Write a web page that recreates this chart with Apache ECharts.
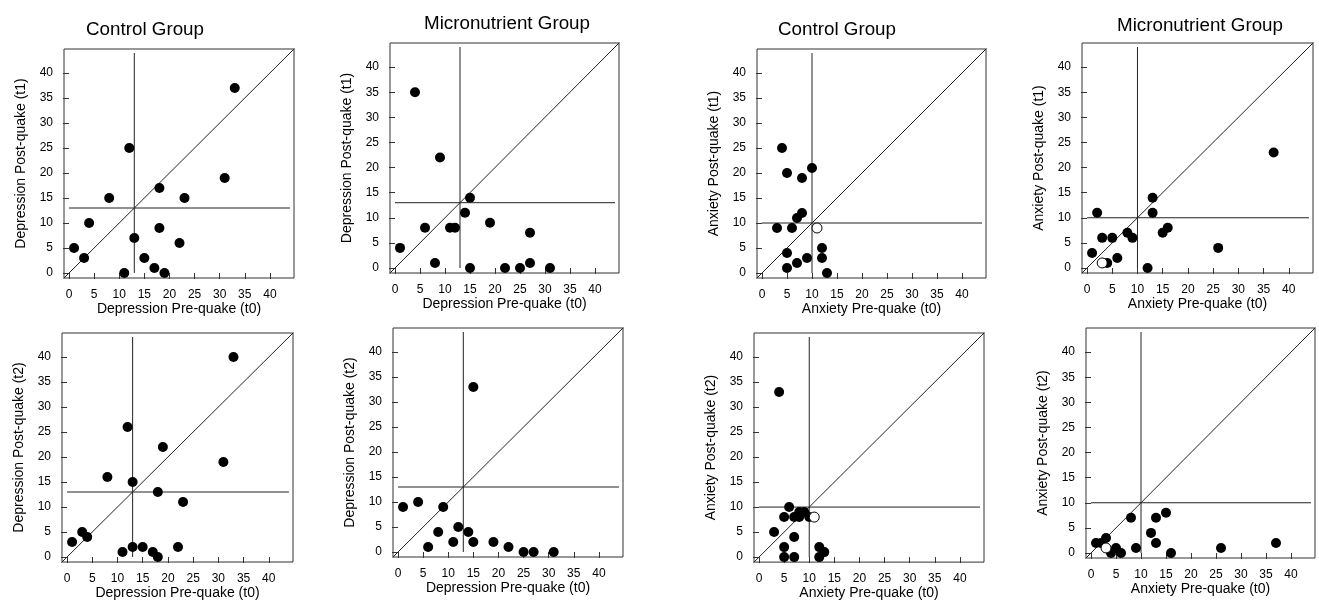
<!DOCTYPE html>
<html>
<head>
<meta charset="utf-8">
<script src="https://cdn.jsdelivr.net/npm/echarts@6/dist/echarts.min.js"></script>
<style>
  html, body { margin: 0; padding: 0; background: #fff; }
  #chart { width: 1319px; height: 601px; }
</style>
</head>
<body>
<div id="chart"></div>
<script>
// tick labels shared by every panel
const ticks = [0, 5, 10, 15, 20, 25, 30, 35, 40]
const depCut = 13
const anxCut = 10
const refEnd = 44

// [pre-quake (t0), post-quake] scores
const depCtrlT1 = [[33, 37], [12, 25], [31, 19], [18, 17], [8, 15], [23, 15], [4, 10], [18, 9], [13, 7], [22, 6], [1, 5], [3, 3], [15, 3], [17, 1], [11, 0], [19, 0]]
const depMicroT1 = [[4, 35], [9, 22], [15, 14], [14, 11], [19, 9], [6, 8], [11, 8], [12, 8], [27, 7], [1, 4], [8, 1], [27, 1], [15, 0], [22, 0], [25, 0], [31, 0]]
const anxCtrlT1 = [[4, 25], [10, 21], [5, 20], [8, 19], [8, 12], [7, 11], [3, 9], [6, 9], [12, 5], [5, 4], [9, 3], [12, 3], [7, 2], [5, 1], [13, 0]]
const anxCtrlT1Open = [[11, 9]]
const anxMicroT1 = [[37, 23], [13, 14], [2, 11], [13, 11], [16, 8], [8, 7], [15, 7], [3, 6], [5, 6], [9, 6], [26, 4], [1, 3], [6, 2], [4, 1], [12, 0]]
const anxMicroT1Open = [[3, 1]]

const depCtrlT2 = [[33, 40], [12, 26], [19, 22], [31, 19], [8, 16], [13, 15], [18, 13], [23, 11], [3, 5], [4, 4], [1, 3], [13, 2], [15, 2], [22, 2], [11, 1], [17, 1], [18, 0]]
const depMicroT2 = [[15, 33], [4, 10], [1, 9], [9, 9], [12, 5], [8, 4], [14, 4], [11, 2], [15, 2], [19, 2], [6, 1], [22, 1], [25, 0], [27, 0], [31, 0]]
const anxCtrlT2 = [[4, 33], [6, 10], [8, 9], [9, 9], [5, 8], [7, 8], [8, 8], [10, 8], [3, 5], [7, 4], [5, 2], [12, 2], [13, 1], [5, 0], [7, 0], [12, 0]]
const anxCtrlT2Open = [[11, 8]]
const anxMicroT2 = [[37, 2], [26, 1], [15, 8], [13, 7], [8, 7], [12, 4], [3, 3], [1, 2], [2, 2], [13, 2], [5, 1], [9, 1], [4, 0], [6, 0], [16, 0]]
const anxMicroT2Open = [[3, 1]]

const panels = [
  { pos: [64, 49, 230, 229], x: 'Depression Pre-quake (t0)', y: 'Depression Post-quake (t1)', cut: depCut, pts: depCtrlT1, open: [] },
  { pos: [390, 43, 229, 230], x: 'Depression Pre-quake (t0)', y: 'Depression Post-quake (t1)', cut: depCut, pts: depMicroT1, open: [] },
  { pos: [757, 49, 229, 229], x: 'Anxiety Pre-quake (t0)', y: 'Anxiety Post-quake (t1)', cut: anxCut, pts: anxCtrlT1, open: anxCtrlT1Open },
  { pos: [1082, 43, 231, 230], x: 'Anxiety Pre-quake (t0)', y: 'Anxiety Post-quake (t1)', cut: anxCut, pts: anxMicroT1, open: anxMicroT1Open },
  { pos: [62, 333, 231, 229], x: 'Depression Pre-quake (t0)', y: 'Depression Post-quake (t2)', cut: depCut, pts: depCtrlT2, open: [] },
  { pos: [393, 328, 230, 229], x: 'Depression Pre-quake (t0)', y: 'Depression Post-quake (t2)', cut: depCut, pts: depMicroT2, open: [] },
  { pos: [754, 333, 230, 230], x: 'Anxiety Pre-quake (t0)', y: 'Anxiety Post-quake (t2)', cut: anxCut, pts: anxCtrlT2, open: anxCtrlT2Open },
  { pos: [1086, 328, 229, 230], x: 'Anxiety Pre-quake (t0)', y: 'Anxiety Post-quake (t2)', cut: anxCut, pts: anxMicroT2, open: anxMicroT2Open }
]

const font = 'Liberation Sans, Arial, sans-serif'
const axisMin = -1
const axisMax = 44.8

const grid = []
const xAxis = []
const yAxis = []
const series = []

const axisBase = (name, nameGap) => ({
  type: 'value',
  min: axisMin,
  max: axisMax,
  name: name,
  nameLocation: 'middle',
  nameGap: nameGap,
  nameTextStyle: { fontFamily: font, fontSize: 14, color: '#000' },
  axisLine: { show: false },
  axisTick: { show: true, customValues: ticks, length: 6, lineStyle: { color: '#333' } },
  axisLabel: { customValues: ticks, margin: 11, fontFamily: font, fontSize: 12, color: '#000' },
  splitLine: { show: false }
})

panels.forEach((p, i) => {
  grid.push({
    left: p.pos[0],
    top: p.pos[1],
    width: p.pos[2],
    height: p.pos[3],
    show: true,
    borderColor: '#333',
    borderWidth: 1,
    backgroundColor: 'transparent'
  })
  xAxis.push(Object.assign(axisBase(p.x, 23), { gridIndex: i }))
  const ya = axisBase(p.y, 36)
  ya.nameRotate = 90
  yAxis.push(Object.assign(ya, { gridIndex: i }))

  const lineStyle = { color: '#222', width: 1 }
  const refLine = (data) => ({
    type: 'line',
    xAxisIndex: i,
    yAxisIndex: i,
    data: data,
    symbol: 'none',
    showSymbol: false,
    clip: true,
    silent: true,
    lineStyle: lineStyle,
    z: 1
  })
  series.push(refLine([[p.cut, 0], [p.cut, refEnd]]))
  series.push(refLine([[0, p.cut], [refEnd, p.cut]]))
  series.push(refLine([[-3, -3], [48, 48]]))

  series.push({
    type: 'scatter',
    xAxisIndex: i,
    yAxisIndex: i,
    data: p.pts,
    symbolSize: 10,
    itemStyle: { color: '#000', opacity: 1 },
    z: 3
  })
  if (p.open.length) {
    series.push({
      type: 'scatter',
      xAxisIndex: i,
      yAxisIndex: i,
      data: p.open,
      symbolSize: 10,
      itemStyle: { color: '#fff', borderColor: '#000', borderWidth: 1, opacity: 1 },
      z: 4
    })
  }
})

const titleStyle = { fontFamily: font, fontSize: 18.8, fontWeight: 'normal', color: '#000' }
const title = [
  { text: 'Control Group', left: 140, top: 15, textAlign: 'center', textStyle: titleStyle },
  { text: 'Micronutrient Group', left: 502, top: 9, textAlign: 'center', textStyle: titleStyle },
  { text: 'Control Group', left: 832, top: 15, textAlign: 'center', textStyle: titleStyle },
  { text: 'Micronutrient Group', left: 1195, top: 11, textAlign: 'center', textStyle: titleStyle }
]

const chart = echarts.init(document.getElementById('chart'))
chart.setOption({
  animation: false,
  backgroundColor: '#fff',
  title: title,
  grid: grid,
  xAxis: xAxis,
  yAxis: yAxis,
  series: series
})
</script>
</body>
</html>
